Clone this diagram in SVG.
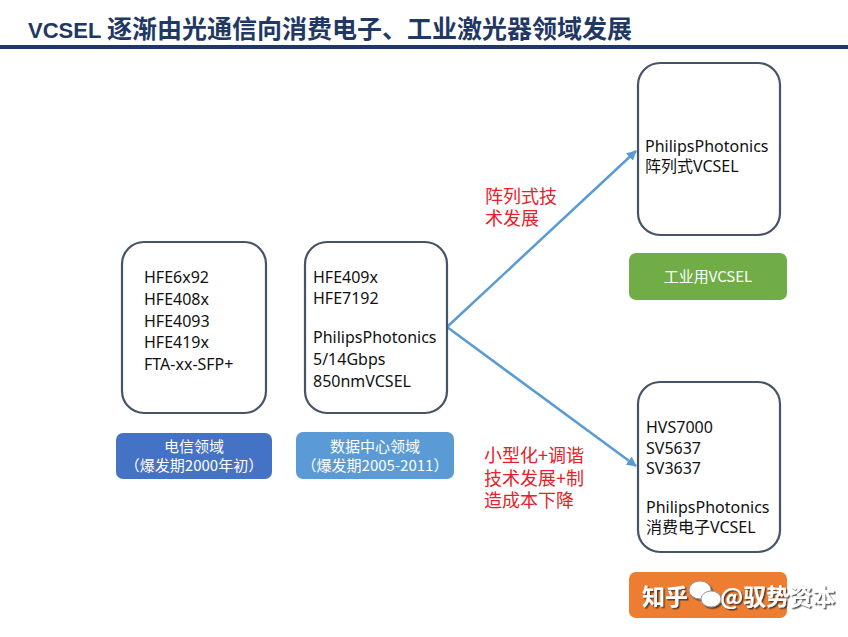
<svg xmlns="http://www.w3.org/2000/svg" width="848" height="637" viewBox="0 0 848 637">
<style>
.box{fill:#fff;stroke:#465468;stroke-width:2.2}
.t{font-family:"Noto Sans","Noto Sans CJK SC",sans-serif;font-size:16px;fill:#111}
.lab{font-family:"Noto Sans CJK SC","Noto Sans",sans-serif;font-size:15px;fill:#fff;text-anchor:middle}
.red{font-family:"Noto Sans CJK SC",sans-serif;font-size:18px;fill:#e8202a}
.conn{stroke:#5b9bd5;stroke-width:2.5;fill:none}
.wm{font-family:"Noto Sans CJK SC",sans-serif;font-size:23px;font-weight:bold;fill:#fff}
</style>
<defs>
<marker id="ah" viewBox="0 0 10 10" refX="9" refY="5" markerWidth="4" markerHeight="4" orient="auto" markerUnits="strokeWidth">
<path d="M0,0 L10,5 L0,10 z" fill="#5b9bd5"/>
</marker>
<filter id="sh" x="-10%" y="-30%" width="130%" height="160%">
<feDropShadow dx="1.5" dy="1.5" stdDeviation="0.6" flood-color="#333" flood-opacity="0.8"/>
</filter>
</defs>
<rect width="848" height="637" fill="#fff"/>
<g id="title">
<text x="28" y="38" font-family="Liberation Sans,'Noto Sans CJK SC',sans-serif" font-weight="bold" font-size="22" fill="#1f3864">VCSEL <tspan font-family="'Noto Sans CJK SC',sans-serif" font-size="25">逐渐由光通信向消费电子、工业激光器领域发展</tspan></text>
<rect x="0" y="45" width="848" height="4" fill="#1f3864"/>
</g>
<g id="connectors">
<path class="conn" d="M447,327 L636,151" marker-end="url(#ah)"/>
<path class="conn" d="M447,327 L636,466" marker-end="url(#ah)"/>
</g>
<g id="telecom">
<rect class="box" x="122" y="242" width="144" height="171" rx="22"/>
<text class="t" x="144" y="283">HFE6x92</text>
<text class="t" x="144" y="305">HFE408x</text>
<text class="t" x="144" y="327">HFE4093</text>
<text class="t" x="144" y="348">HFE419x</text>
<text class="t" x="144" y="370">FTA-xx-SFP+</text>
</g>
<g id="datacenter">
<rect class="box" x="305" y="242" width="142" height="171" rx="22"/>
<text class="t" x="313" y="283">HFE409x</text>
<text class="t" x="313" y="304">HFE7192</text>
<text class="t" x="313" y="343">PhilipsPhotonics</text>
<text class="t" x="313" y="365">5/14Gbps</text>
<text class="t" x="313" y="387">850nmVCSEL</text>
</g>
<g id="label-telecom">
<rect x="116" y="433" width="156" height="46" rx="7" fill="#4472c4"/>
<text class="lab" x="194" y="452">电信领域</text>
<text class="lab" x="194" y="471">（爆发期2000年初）</text>
</g>
<g id="label-datacenter">
<rect x="296" y="432" width="158" height="47" rx="7" fill="#5b9bd5"/>
<text class="lab" x="375" y="452">数据中心领域</text>
<text class="lab" x="375" y="471">（爆发期2005-2011）</text>
</g>
<g id="array">
<rect class="box" x="638" y="63" width="142" height="172" rx="22"/>
<text class="t" x="645" y="152">PhilipsPhotonics</text>
<text class="t" x="645" y="172">阵列式VCSEL</text>
</g>
<g id="label-industrial">
<rect x="629" y="253" width="158" height="47" rx="7" fill="#70ad47"/>
<text class="lab" x="708" y="282">工业用VCSEL</text>
</g>
<g id="consumer">
<rect class="box" x="638" y="382" width="142" height="170" rx="22"/>
<text class="t" x="646" y="433">HVS7000</text>
<text class="t" x="646" y="454">SV5637</text>
<text class="t" x="646" y="474">SV3637</text>
<text class="t" x="646" y="513">PhilipsPhotonics</text>
<text class="t" x="646" y="533">消费电子VCSEL</text>
</g>
<g id="label-consumer">
<rect x="629" y="572" width="158" height="46" rx="7" fill="#ed7d31"/>
<g filter="url(#sh)">
<text class="wm" x="642" y="605">知乎</text>
<text class="wm" x="720" y="605">@驭势资本</text>
<ellipse cx="700" cy="590" rx="11" ry="9" fill="#fff" stroke="#999" stroke-width="1"/>
<ellipse cx="711" cy="599" rx="10" ry="8" fill="#fff" stroke="#999" stroke-width="1"/>
</g>
</g>
<g id="edge-labels">
<text class="red" x="485" y="203">阵列式技<tspan x="485" y="225">术发展</tspan></text>
<text class="red" x="484" y="462">小型化+调谐<tspan x="484" y="485">技术发展+制</tspan><tspan x="484" y="507">造成本下降</tspan></text>
</g>
</svg>
